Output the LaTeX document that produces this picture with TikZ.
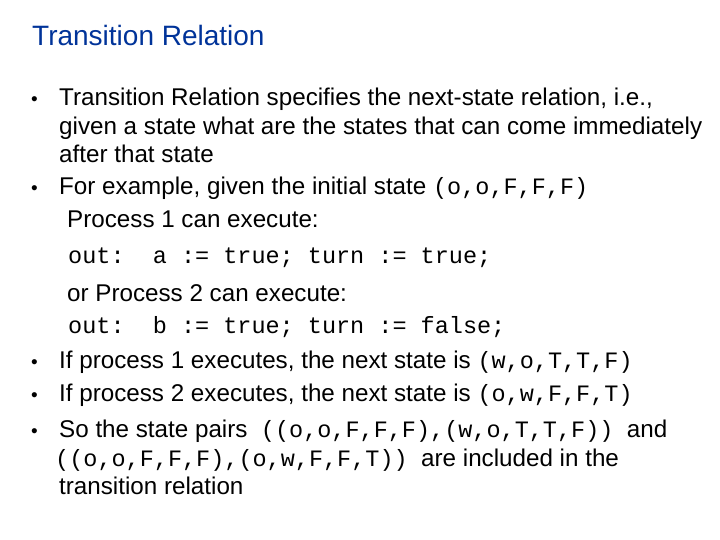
\documentclass[tikz,border=0pt]{standalone}
\usepackage{fontspec}
\setmainfont{Liberation Sans}
\setmonofont{Liberation Mono}
\definecolor{titleblue}{RGB}{0,51,153}
\begin{document}
\begin{tikzpicture}[x=1bp,y=-1bp,
  txt/.style={anchor=base west,inner sep=0pt,font=\fontsize{24.2bp}{28bp}\selectfont},
  bul/.style={anchor=base west,inner sep=0pt,font=\fontsize{19bp}{28bp}\selectfont}]
\useasboundingbox (0,0) rectangle (720,540);
\newcommand{\mt}[1]{{\fontsize{23.5bp}{26bp}\ttfamily #1}}
\node[txt,text=titleblue,font=\fontsize{28bp}{30bp}\selectfont] (title) at (32,46) {Transition Relation};
\node[bul] (b1) at (31,106) {•};
\node[txt] (l1) at (59,106) {Transition Relation specifies the next-state relation, i.e.,};
\node[txt] (l2) at (59,135) {given a state what are the states that can come immediately};
\node[txt] (l3) at (59,163) {after that state};
\node[bul] (b2) at (31,195) {•};
\node[txt] (l4) at (59,195) {For example, given the initial state \mt{(o,o,F,F,F)}};
\node[txt] (l5) at (67,228) {Process 1 can execute:};
\node[txt] (l6) at (68,264) {\mt{out:\ \ a := true; turn := true;}};
\node[txt] (l7) at (67,301) {or Process 2 can execute:};
\node[txt] (l8) at (68,333) {\mt{out:\ \ b := true; turn := false;}};
\node[bul] (b3) at (31,368) {•};
\node[txt] (l9) at (59,368) {If process 1 executes, the next state is \mt{(w,o,T,T,F)}};
\node[bul] (b4) at (31,401) {•};
\node[txt] (l10) at (59,401) {If process 2 executes, the next state is \mt{(o,w,F,F,T)}};
\node[bul] (b5) at (31,437) {•};
\node[txt] (l11) at (59,437) {So the state pairs \ \mt{((o,o,F,F,F),(w,o,T,T,F))}\ \ and};
\node[txt] (l12) at (55,466) {\mt{((o,o,F,F,F),(o,w,F,F,T))}\ \ are included in the};
\node[txt] (l13) at (59,494) {transition relation};
\end{tikzpicture}
\end{document}
